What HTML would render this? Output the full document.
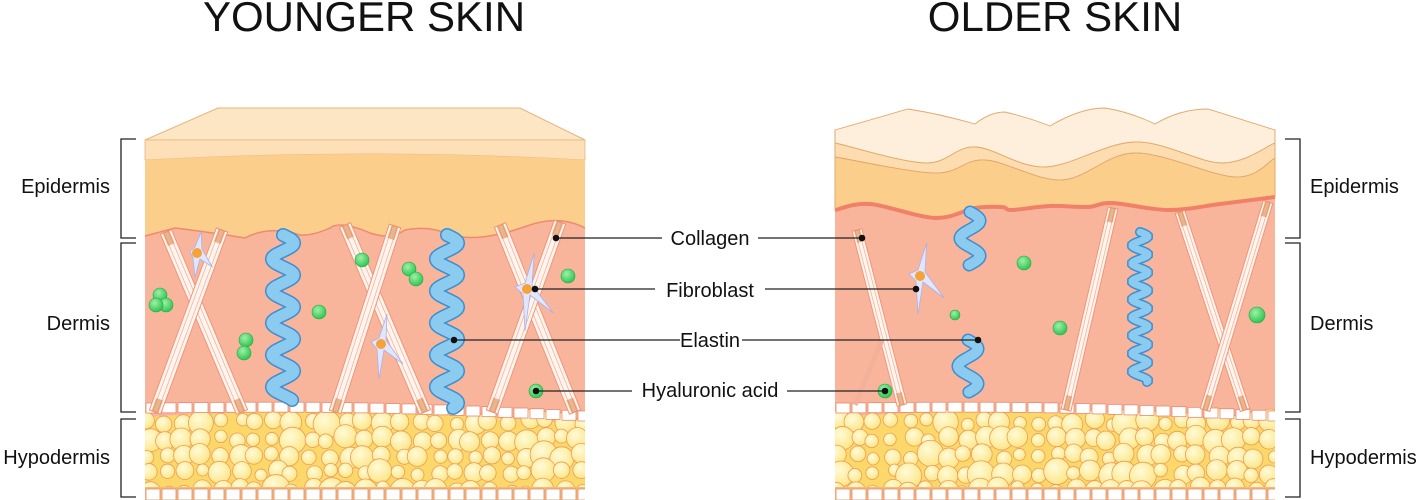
<!DOCTYPE html>
<html><head><meta charset="utf-8"><style>
html,body{margin:0;padding:0;background:#fff}
svg{display:block}
text{font-family:"Liberation Sans",sans-serif;fill:#111}
</style></head><body>
<svg id="s" width="1423" height="500" viewBox="0 0 1423 500" xmlns="http://www.w3.org/2000/svg">
<defs>
<radialGradient id="fat" cx="0.4" cy="0.35" r="0.75"><stop offset="0" stop-color="#fffbd8"/><stop offset="1" stop-color="#fde27c"/></radialGradient>
<radialGradient id="gr" cx="0.4" cy="0.35" r="0.7"><stop offset="0" stop-color="#9ff0a8"/><stop offset="1" stop-color="#27c24a"/></radialGradient>
<clipPath id="cl"><rect x="145" y="100" width="440" height="400"/></clipPath>
<clipPath id="cr"><rect x="835" y="100" width="440" height="400"/></clipPath>
</defs>
<text x="364" y="31" font-size="42" text-anchor="middle">YOUNGER SKIN</text>
<text x="1055" y="31" font-size="42" text-anchor="middle">OLDER SKIN</text>

<!-- LEFT BLOCK -->
<g id="L">
<polygon points="145,140 218,108 520,108 585,140" fill="#fde6c4" stroke="#e8b47a"/>
<rect x="145" y="140" width="440" height="360" fill="#f9b59c"/>
<path d="M145,140 H585 V160 Q365,148 145,160 Z" fill="#fde0b8" stroke="#e8b47a" stroke-width="0.8"/>
<path d="M145,160 Q365,148 585,160 V228 Q560,215 530,225 Q510,232 495,235 Q470,240 450,235 Q430,225 405,230 Q390,240 370,233 Q340,220 330,228 Q312,236 300,235 Q270,225 245,238 Q215,233 175,228 Q160,232 145,236 Z" fill="#fbce8c"/>
<path d="M145,236 Q160,232 175,228 Q215,233 245,238 Q270,225 300,235 Q312,236 330,228 Q340,220 370,233 Q390,240 405,230 Q430,225 450,235 Q470,240 495,235 Q510,232 530,225 Q560,215 585,228" fill="none" stroke="#ee8a70" stroke-width="1.5"/>
</g>

<g id="R"></g>
<g id="dyn"></g>

<!-- brackets -->
<g stroke="#222" stroke-width="1.3" fill="none">
<path d="M136,139 H121 V238 H136"/><path d="M136,243 H121 V412 H136"/><path d="M136,419 H121 V497 H136"/>
<path d="M1285,139 H1300 V238 H1285"/><path d="M1285,243 H1300 V412 H1285"/><path d="M1285,419 H1300 V497 H1285"/>
</g>
<g font-size="20">
<text x="110" y="193" text-anchor="end">Epidermis</text>
<text x="110" y="330" text-anchor="end">Dermis</text>
<text x="110" y="464" text-anchor="end">Hypodermis</text>
<text x="1310" y="193">Epidermis</text>
<text x="1310" y="330">Dermis</text>
<text x="1310" y="464">Hypodermis</text>
</g>

<g font-size="20">
<text x="710" y="245" text-anchor="middle">Collagen</text>
<text x="710" y="297" text-anchor="middle">Fibroblast</text>
<text x="710" y="347" text-anchor="middle">Elastin</text>
<text x="710" y="397" text-anchor="middle">Hyaluronic acid</text>
</g>
<g stroke="#222" stroke-width="1.2">
<line x1="556" y1="238" x2="662" y2="238"/><line x1="758" y1="238" x2="862" y2="238"/>
<line x1="535" y1="289" x2="655" y2="289"/><line x1="765" y1="289" x2="916" y2="289"/>
<line x1="454" y1="340" x2="680" y2="340"/><line x1="742" y1="340" x2="978" y2="340"/>
<line x1="536" y1="391" x2="632" y2="391"/><line x1="787" y1="391" x2="885" y2="391"/>
</g>
<g fill="#111">
<circle cx="556" cy="238" r="3.3"/><circle cx="862" cy="238" r="3.3"/>
<circle cx="535" cy="289" r="3.3"/><circle cx="916" cy="289" r="3.3"/>
<circle cx="454" cy="340" r="3.3"/><circle cx="978" cy="340" r="3.3"/>
<circle cx="536" cy="391" r="3.3"/><circle cx="885" cy="391" r="3.3"/>
</g>
</svg>
<script>
(function(){
var NS="http://www.w3.org/2000/svg",g=document.getElementById("dyn"),R=document.getElementById("R");
function el(t,a,p){var e=document.createElementNS(NS,t);for(var k in a)e.setAttribute(k,a[k]);(p||g).appendChild(e);return e;}
function smooth(p,start){var d=start?"M"+p[0][0]+","+p[0][1]:"L"+p[0][0]+","+p[0][1];
 for(var i=0;i<p.length-1;i++){var p0=p[i-1]||p[i],p1=p[i],p2=p[i+1],p3=p[i+2]||p2;
  d+=" C"+(p1[0]+(p2[0]-p0[0])/6).toFixed(1)+","+(p1[1]+(p2[1]-p0[1])/6).toFixed(1)+" "+(p2[0]-(p3[0]-p1[0])/6).toFixed(1)+","+(p2[1]-(p3[1]-p1[1])/6).toFixed(1)+" "+p2[0]+","+p2[1];}
 return d;}
function rev(p){return p.slice().reverse();}
// right block top
var T=[[835,130],[908,109],[940,114],[975,124],[1005,112],[1050,126],[1105,108],[1155,124],[1208,109],[1275,130]];
var W1=[[835,143],[925,163],[975,147],[1045,167],[1135,142],[1222,163],[1275,143]];
var W2=[[835,157],[935,173],[985,160],[1062,180],[1135,153],[1235,177],[1275,158]];
var B=[[835,210],[870,204],[935,218],[975,208],[1002,207],[1012,210],[1050,206],[1088,207],[1112,203],[1168,210],[1220,204],[1275,197]];
el("rect",{x:835,y:140,width:440,height:360,fill:"#f9b59c"},R);
el("path",{d:"M835,130 L908,109 Q940,114 975,124 Q990,112 1005,112 Q1030,118 1050,126 Q1080,108 1105,108 Q1130,112 1155,124 Q1180,109 1208,109 L1275,130 L1275,143 "+smooth(rev(W1),false)+" Z",fill:"#fdefdc",stroke:"#e2a86a","stroke-width":0.9},R);
el("path",{d:smooth(W1,true)+" L1275,158 "+smooth(rev(W2),false)+" Z",fill:"#fddcb0",stroke:"#e2a86a","stroke-width":0.9},R);
el("path",{d:smooth(W2,true)+" L1275,197 "+smooth(rev(B),false)+" Z",fill:"#fbce8c",stroke:"#e2a86a","stroke-width":0.9},R);
el("path",{d:smooth(B,true),fill:"none",stroke:"#f08068","stroke-width":4},R);
el("line",{x1:835,y1:130,x2:835,y2:210,stroke:"#e2a86a","stroke-width":1},R);
el("line",{x1:1275,y1:130,x2:1275,y2:197,stroke:"#e2a86a","stroke-width":1},R);

var seed=7;function rnd(){seed=(seed*9301+49297)%233280;return seed/233280;}
function block(x0,clip,topY){
 var grp=el("g",{"clip-path":"url(#"+clip+")"});
 el("path",{d:"M"+x0+","+(topY+12)+" Q"+(x0+220)+","+(topY-2)+" "+(x0+440)+","+(topY+20)+" V490 H"+x0+" Z",fill:"#fcd86a"},grp);
 for(var yy=422;yy<492;yy+=17){for(var xx=x0+4;xx<x0+445;xx+=18){
  var r=6+rnd()*5;if(rnd()<0.12)r=11+rnd()*3;
  el("circle",{cx:xx+(rnd()-0.5)*8,cy:yy+(rnd()-0.5)*6,r:r,fill:"url(#fat)",stroke:"#ec9c55","stroke-width":0.8},grp);}}
 for(var j=0;j<28;j++){var x=x0+j*16,f=j/27,y=topY+Math.sin(f*Math.PI)*-4+f*8;
  el("rect",{x:x+1,y:y-2,width:14,height:10,fill:"#fff",stroke:"#e58a6e","stroke-width":0.8},grp);}
 el("rect",{x:x0,y:487,width:440,height:13,fill:"#f2bb77"},grp);
 for(var k=0;k<28;k++)el("rect",{x:x0+k*16+1,y:489,width:14,height:11,fill:"#fff",stroke:"#e58a6e","stroke-width":0.8},grp);
}
function fiber(x1,y1,x2,y2,w){
 var a=Math.atan2(y2-y1,x2-x1),nx=-Math.sin(a)*w/2,ny=Math.cos(a)*w/2;
 el("polygon",{points:(x1+nx)+","+(y1+ny)+" "+(x2+nx)+","+(y2+ny)+" "+(x2-nx)+","+(y2-ny)+" "+(x1-nx)+","+(y1-ny),fill:"#fff4ee",stroke:"#f09478","stroke-width":1});
 for(var s=-1;s<=1;s+=2)el("line",{x1:x1+nx*0.4*s,y1:y1+ny*0.4*s,x2:x2+nx*0.4*s,y2:y2+ny*0.4*s,stroke:"#f5b39a","stroke-width":0.8});
 el("line",{x1:x1,y1:y1,x2:x1+(x2-x1)*0.07,y2:y1+(y2-y1)*0.07,stroke:"#d98040","stroke-width":w*0.6,opacity:0.55});
 el("line",{x1:x2,y1:y2,x2:x2-(x2-x1)*0.07,y2:y2-(y2-y1)*0.07,stroke:"#d98040","stroke-width":w*0.6,opacity:0.55});
}
function elastin(cx,y1,y2,amp,per,w){
 var d="";for(var y=y1;y<=y2;y+=1){var x=cx+amp*Math.sin((y-y1)/per*2*Math.PI);d+=(y==y1?"M":"L")+x.toFixed(1)+","+y;}
 el("path",{d:d,fill:"none",stroke:"#3d8ed0","stroke-width":w+3,"stroke-linecap":"round"});
 el("path",{d:d,fill:"none",stroke:"#8ccbf0","stroke-width":w,"stroke-linecap":"round"});
}
function ha(x,y,r){el("circle",{cx:x,cy:y,r:r,fill:"url(#gr)",stroke:"#1fa848","stroke-width":0.6});}
function fib(x,y,s){
 el("path",{d:"M"+(x-10*s)+","+(y-2)+" L"+(x-2)+","+(y-6)+" L"+(x+6*s)+","+(y-30*s)+" L"+(x+5)+","+(y-4)+" L"+(x+22*s)+","+(y+20*s)+" L"+(x+3)+","+(y+6)+" L"+(x-2)+","+(y+35*s)+" L"+(x-4)+","+(y+5)+" Z",fill:"#e3e6fb",stroke:"#a9b1e8","stroke-width":0.8});
 el("circle",{cx:x,cy:y,r:5,fill:"#f4a23a"});
}
block(145,"cl",405);block(835,"cr",405);
fiber(166,232,242,412,12);fiber(222,230,155,412,12);
fiber(345,225,425,412,12);fiber(395,226,335,412,12);
fiber(500,225,575,412,12);fiber(560,222,492,412,12);
elastin(283,235,400,11,32,11);elastin(447,235,408,11,32,11);
fib(197,253,0.7);fib(381,344,1);fib(527,289,1.2);
[[160,295,7],[166,305,7],[156,305,7],[246,340,7],[244,353,7],[319,312,7],[362,260,7],[409,269,7],[416,279,7],[568,276,7],[536,391,7]].forEach(function(c){ha(c[0],c[1],c[2]);});
fiber(857,230,902,405,10);fiber(1113,208,1066,410,10);fiber(1180,212,1245,410,10);fiber(1268,202,1205,410,10);
el("path",{d:"M855,405 L882,340",stroke:"#f3b09a","stroke-width":5,fill:"none"});
elastin(970,212,265,10,35,10);elastin(968,340,392,10,35,10);elastin(1140,232,382,8,18,7);
fib(920,276,1.1);
[[1024,263,7],[955,315,5],[1060,328,7],[1257,315,8],[885,391,7]].forEach(function(c){ha(c[0],c[1],c[2]);});
})();
</script>
</body></html>
